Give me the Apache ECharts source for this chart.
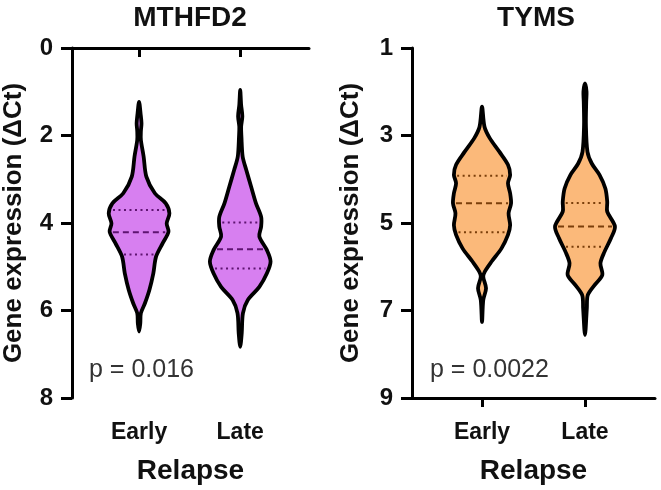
<!DOCTYPE html>
<html><head><meta charset="utf-8">
<script src="https://cdn.jsdelivr.net/npm/echarts@6/dist/echarts.min.js"></script>
<style>html,body{margin:0;padding:0;background:#fff}#c{width:661px;height:490px}</style>
</head><body><div id="c"></div>
<script>
// ---------- data ----------
const groups = ['Early', 'Late'];
const panelTitles = ['MTHFD2', 'TYMS'];
const pTexts = ['p = 0.016', 'p = 0.0022'];
const mthfd2Ticks = [0, 2, 4, 6, 8];
const tymsTicks = [1, 3, 5, 7, 9];

// violin outlines: y levels (ΔCt) and relative half-width (density)
const mthfd2EarlyLevels  = [1.23, 1.50, 1.72, 1.90, 2.10, 2.48, 2.94, 3.32, 3.55, 3.78, 4.01, 4.20, 4.46, 4.77, 5.15, 5.53, 5.84, 6.06, 6.30, 6.48];
const mthfd2EarlyDensity = [0, 0.05, 0.08, 0.06, 0.06, 0.15, 0.24, 0.52, 0.88, 1.0, 0.91, 0.97, 0.78, 0.56, 0.47, 0.34, 0.19, 0.06, 0.04, 0];
const mthfd2LateLevels   = [0.96, 1.30, 1.56, 1.80, 2.03, 2.48, 2.79, 3.17, 3.55, 3.86, 4.08, 4.31, 4.62, 4.88, 5.15, 5.46, 5.76, 6.06, 6.52, 6.83];
const mthfd2LateDensity  = [0, 0.03, 0.07, 0.03, 0.04, 0.08, 0.20, 0.36, 0.52, 0.69, 0.69, 0.63, 0.88, 1.0, 0.88, 0.63, 0.25, 0.09, 0.05, 0];
const tymsEarlyLevels    = [2.34, 2.80, 3.06, 3.37, 3.67, 3.90, 4.09, 4.32, 4.55, 4.78, 5.05, 5.27, 5.58, 5.88, 6.11, 6.23, 6.49, 6.76, 7.26];
const tymsEarlyDensity   = [0, 0.08, 0.25, 0.56, 0.84, 0.91, 0.84, 0.91, 0.94, 0.86, 0.91, 0.84, 0.63, 0.31, 0.09, 0.04, 0.13, 0.04, 0];
const tymsLateLevels     = [1.81, 2.00, 2.23, 2.76, 3.37, 3.64, 3.90, 4.21, 4.51, 4.74, 5.08, 5.35, 5.66, 5.92, 6.19, 6.42, 6.65, 6.95, 7.56];
const tymsLateDensity    = [0, 0.05, 0.04, 0.03, 0.08, 0.22, 0.47, 0.66, 0.72, 0.72, 0.97, 0.84, 0.63, 0.50, 0.56, 0.31, 0.09, 0.06, 0];

// quartiles [Q1, median, Q3] per group
const mthfd2EarlyQuartiles = [3.70, 4.21, 4.72];
const mthfd2LateQuartiles  = [3.99, 4.60, 5.04];
const tymsEarlyQuartiles   = [3.92, 4.55, 5.21];
const tymsLateQuartiles    = [4.54, 5.08, 5.54];

// ---------- rendering ----------
const FONT = "'Liberation Sans', Arial, sans-serif";
const HALF_MAX = 0.30;

function interp(levels, dens, y) {
  for (let k = 0; k < levels.length - 1; k++) {
    if (y >= levels[k] && y <= levels[k + 1]) {
      const t = (y - levels[k]) / (levels[k + 1] - levels[k]);
      return dens[k] + t * (dens[k + 1] - dens[k]);
    }
  }
  return 0;
}

function makeRender(profiles, quartiles, fill, lineColor) {
  return function (params, api) {
    const i = params.dataIndex;
    const xc = api.value(0);
    const p = profiles[i];
    const right = [], left = [];
    for (let k = 0; k < p.levels.length; k++) {
      const w = p.density[k] * HALF_MAX;
      right.push(api.coord([xc + w, p.levels[k]]));
      if (k !== 0 && k !== p.levels.length - 1) left.push(api.coord([xc - w, p.levels[k]]));
    }
    const pts = right.concat(left.reverse());
    const children = [{
      type: 'polygon',
      shape: { points: pts, smooth: 0.3 },
      style: { fill: fill, stroke: '#000', lineWidth: 3.8, lineJoin: 'round' }
    }];
    quartiles[i].forEach(function (q, qi) {
      const w = interp(p.levels, p.density, q) * HALF_MAX;
      const a = api.coord([xc - w, q]), b = api.coord([xc + w, q]);
      const inset = 3;
      children.push({
        type: 'line',
        shape: { x1: a[0] + inset, y1: a[1], x2: b[0] - inset, y2: b[1] },
        style: { stroke: lineColor, lineWidth: 2, lineDash: qi === 1 ? [6, 4] : [2, 3.5] }
      });
    });
    return { type: 'group', children: children };
  };
}

function xAxisCfg(gridIndex, min, max) {
  return {
    type: 'value', gridIndex: gridIndex, min: min, max: max,
    name: 'Relapse', nameLocation: 'middle', nameGap: 59,
    nameTextStyle: { fontSize: 28, fontWeight: 'bold', color: '#111', fontFamily: FONT },
    axisLine: { show: true, lineStyle: { color: '#000', width: 3 } },
    axisTick: { show: true, length: 9, lineStyle: { color: '#000', width: 3 }, customValues: [1, 2] },
    axisLabel: { show: true, customValues: [1, 2], margin: 23, fontSize: 23, fontWeight: 'bold', color: '#111', fontFamily: FONT,
      formatter: function (v) { return groups[Math.round(v) - 1] || ''; } },
    splitLine: { show: false }
  };
}

function yAxisCfg(gridIndex, ticks, nameGap) {
  return {
    type: 'value', gridIndex: gridIndex, inverse: true,
    min: ticks[0], max: ticks[ticks.length - 1], interval: ticks[1] - ticks[0],
    name: 'Gene expression (ΔCt)', nameLocation: 'middle', nameGap: nameGap, nameRotate: 90,
    nameTextStyle: { fontSize: 26, fontWeight: 'bold', color: '#111', fontFamily: FONT },
    axisLine: { show: true, onZero: false, lineStyle: { color: '#000', width: 3 } },
    axisTick: { show: true, length: 11, lineStyle: { color: '#000', width: 3 } },
    axisLabel: { show: true, margin: 19, fontSize: 24, fontWeight: 'bold', color: '#111', fontFamily: FONT },
    splitLine: { show: false }
  };
}

const chart = echarts.init(document.getElementById('c'), null, { renderer: 'canvas' });
const option = {
  backgroundColor: '#fff',
  animation: false,
  grid: [
    { left: 72, top: 48, width: 237, height: 350 },
    { left: 412, top: 48, width: 243, height: 350 }
  ],
  xAxis: [xAxisCfg(0, 0.337, 2.68), xAxisCfg(1, 0.32, 2.68)],
  yAxis: [yAxisCfg(0, mthfd2Ticks, 45), yAxisCfg(1, tymsTicks, 48)],
  graphic: [
    { type: 'text', x: 190, y: 18, style: { text: panelTitles[0], font: 'bold 28px ' + FONT, fill: '#111', align: 'center', verticalAlign: 'middle' } },
    { type: 'text', x: 536, y: 18, style: { text: panelTitles[1], font: 'bold 28px ' + FONT, fill: '#111', align: 'center', verticalAlign: 'middle' } },
    { type: 'text', x: 89, y: 370, style: { text: pTexts[0], font: '25px ' + FONT, fill: '#333', align: 'left', verticalAlign: 'middle' } },
    { type: 'text', x: 430, y: 370, style: { text: pTexts[1], font: '25px ' + FONT, fill: '#333', align: 'left', verticalAlign: 'middle' } }
  ],
  series: [
    {
      type: 'custom', xAxisIndex: 0, yAxisIndex: 0, clip: false,
      data: [[1, mthfd2EarlyQuartiles[1]], [2, mthfd2LateQuartiles[1]]],
      encode: { x: 0, y: 1 },
      renderItem: makeRender(
        [{ levels: mthfd2EarlyLevels, density: mthfd2EarlyDensity }, { levels: mthfd2LateLevels, density: mthfd2LateDensity }],
        [mthfd2EarlyQuartiles, mthfd2LateQuartiles], '#d77ff0', '#5e1470')
    },
    {
      type: 'custom', xAxisIndex: 1, yAxisIndex: 1, clip: false,
      data: [[1, tymsEarlyQuartiles[1]], [2, tymsLateQuartiles[1]]],
      encode: { x: 0, y: 1 },
      renderItem: makeRender(
        [{ levels: tymsEarlyLevels, density: tymsEarlyDensity }, { levels: tymsLateLevels, density: tymsLateDensity }],
        [tymsEarlyQuartiles, tymsLateQuartiles], '#fbb97a', '#7a3e0a')
    }
  ]
};
chart.setOption(option);
</script>
</body></html>
